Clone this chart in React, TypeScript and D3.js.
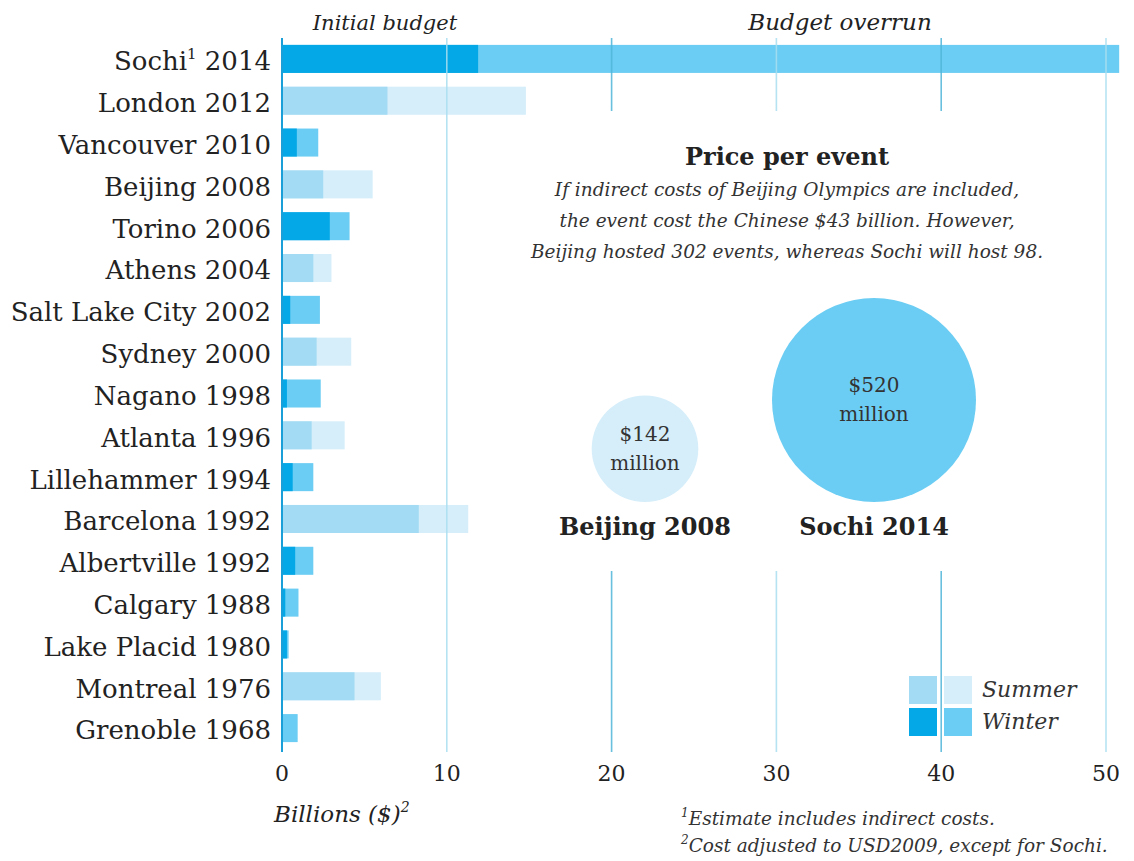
import React from "react";
import * as d3 from "d3";

const cities = [
  "Sochi 2014", "London 2012", "Vancouver 2010", "Beijing 2008", "Torino 2006",
  "Athens 2004", "Salt Lake City 2002", "Sydney 2000", "Nagano 1998", "Atlanta 1996",
  "Lillehammer 1994", "Barcelona 1992", "Albertville 1992", "Calgary 1988",
  "Lake Placid 1980", "Montreal 1976", "Grenoble 1968",
];
const seasons = ["W", "S", "W", "S", "W", "S", "W", "S", "W", "S", "W", "S", "W", "W", "W", "S", "W"];
const initialBudget = [11.9, 6.4, 0.9, 2.5, 2.9, 1.9, 0.5, 2.1, 0.3, 1.8, 0.65, 8.3, 0.8, 0.2, 0.3, 4.4, 0];
const totalCost = [50.8, 14.8, 2.2, 5.5, 4.1, 3.0, 2.3, 4.2, 2.35, 3.8, 1.9, 11.3, 1.9, 1.0, 0.4, 6.0, 0.95];
const xTicks = [0, 10, 20, 30, 40, 50];

const perEventLabels = ["Beijing 2008", "Sochi 2014"];
const perEventValues = [142, 520];

const COLORS: Record<string, [string, string]> = {
  S: ["#a3dbf4", "#d5eefa"],
  W: ["#05a8e6", "#6bcdf3"],
};
const TXT = "#222";
const SERIF = "'DejaVu Serif', serif";

export default function App() {
  const x = d3.scaleLinear().domain([0, 50]).range([282, 1106]);
  const y = d3.scaleBand<string>().domain(cities).range([38, 749]).paddingInner(0.33).paddingOuter(0.165);
  const bw = y.bandwidth();
  const r = d3.scaleSqrt().domain([0, 520]).range([0, 102]);
  const circleX = [645, 874];
  const circleY = 502;

  return (
    <svg width={1134} height={861} style={{ position: "absolute", left: 0, top: 0, display: "block", background: "#fff" }}>
      {/* headers */}
      <text x={385} y={30} textAnchor="middle" fontFamily={SERIF} fontStyle="italic" fontSize={21} fill={TXT}>Initial budget</text>
      <text x={840} y={30} textAnchor="middle" fontFamily={SERIF} fontStyle="italic" fontSize={23} fill={TXT}>Budget overrun</text>

      {/* bars */}
      {cities.map((c, i) => {
        const [c0, c1] = COLORS[seasons[i]];
        const y0 = y(c)!;
        return (
          <g key={c}>
            <rect x={x(0)} y={y0} width={x(totalCost[i]) - x(0)} height={bw} fill={c1} />
            <rect x={x(0)} y={y0} width={x(initialBudget[i]) - x(0)} height={bw} fill={c0} />
          </g>
        );
      })}

      {/* gridlines */}
      {xTicks.slice(1).map((t) => (
        <line key={t} x1={x(t)} x2={x(t)} y1={38} y2={752}
          stroke={t === 20 || t === 40 ? "#4fb5d8" : "#a9def0"} strokeOpacity={0.85} strokeWidth={1.6} />
      ))}

      {/* white panel over gridlines */}
      <rect x={530} y={111} width={565} height={460} fill="#fff" />

      {/* zero axis */}
      <line x1={x(0)} x2={x(0)} y1={38} y2={752} stroke="#1a9fd8" strokeWidth={2} />

      {/* category labels */}
      {cities.map((c, i) => {
        const cy = y(c)! + bw / 2 + 2;
        if (i === 0) {
          const parts = c.split(" ");
          return (
            <text key={c} x={271} y={cy} dy="0.36em" textAnchor="end" fontFamily={SERIF} fontSize={26} fill={TXT}>
              {parts[0]}
              <tspan fontSize={15} dy={-11}>1</tspan>
              <tspan dy={11}>{" " + parts[1]}</tspan>
            </text>
          );
        }
        return (
          <text key={c} x={271} y={cy} dy="0.36em" textAnchor="end" fontFamily={SERIF} fontSize={26} fill={TXT}>{c}</text>
        );
      })}

      {/* tick labels */}
      {xTicks.map((t) => (
        <text key={t} x={x(t)} y={781} textAnchor="middle" fontFamily={SERIF} fontSize={22} fill={TXT}>{t}</text>
      ))}
      <text x={274} y={822} fontFamily={SERIF} fontStyle="italic" fontSize={23} fill={TXT}>
        Billions ($)<tspan fontSize={14} dy={-10}>2</tspan>
      </text>

      {/* Price per event panel */}
      <text x={787} y={165} textAnchor="middle" fontFamily={SERIF} fontWeight="bold" fontSize={24} fill={TXT}>Price per event</text>
      {[
        "If indirect costs of Beijing Olympics are included,",
        "the event cost the Chinese $43 billion. However,",
        "Beijing hosted 302 events, whereas Sochi will host 98.",
      ].map((s, i) => (
        <text key={i} x={787} y={196 + i * 31} textAnchor="middle" fontFamily={SERIF} fontStyle="italic" fontSize={18.5} fill="#333">{s}</text>
      ))}

      {perEventValues.map((v, i) => {
        const rr = r(v);
        const cy = circleY - rr;
        return (
          <g key={perEventLabels[i]}>
            <circle cx={circleX[i]} cy={cy} r={rr} fill={i === 0 ? "#d5eefa" : "#6bcdf3"} />
            <text x={circleX[i]} y={cy - 8} textAnchor="middle" fontFamily={SERIF} fontSize={20} fill="#333">${v}</text>
            <text x={circleX[i]} y={cy + 21} textAnchor="middle" fontFamily={SERIF} fontSize={20} fill="#333">million</text>
            <text x={circleX[i]} y={535} textAnchor="middle" fontFamily={SERIF} fontWeight="bold" fontSize={24} fill={TXT}>{perEventLabels[i]}</text>
          </g>
        );
      })}

      {/* legend */}
      {["S", "W"].map((s, i) => (
        <g key={s}>
          <rect x={909} y={676 + i * 32} width={28} height={28} fill={COLORS[s][0]} />
          <rect x={944} y={676 + i * 32} width={28} height={28} fill={COLORS[s][1]} />
          <text x={982} y={697 + i * 32} fontFamily={SERIF} fontStyle="italic" fontSize={22} fill="#333">{s === "S" ? "Summer" : "Winter"}</text>
        </g>
      ))}

      {/* footnotes */}
      <text x={681} y={825} fontFamily={SERIF} fontStyle="italic" fontSize={18.5} fill="#333">
        <tspan fontSize={12} dy={-8}>1</tspan><tspan dy={8}>Estimate includes indirect costs.</tspan>
      </text>
      <text x={681} y={852} fontFamily={SERIF} fontStyle="italic" fontSize={18.5} fill="#333">
        <tspan fontSize={12} dy={-8}>2</tspan><tspan dy={8}>Cost adjusted to USD2009, except for Sochi.</tspan>
      </text>
    </svg>
  );
}
